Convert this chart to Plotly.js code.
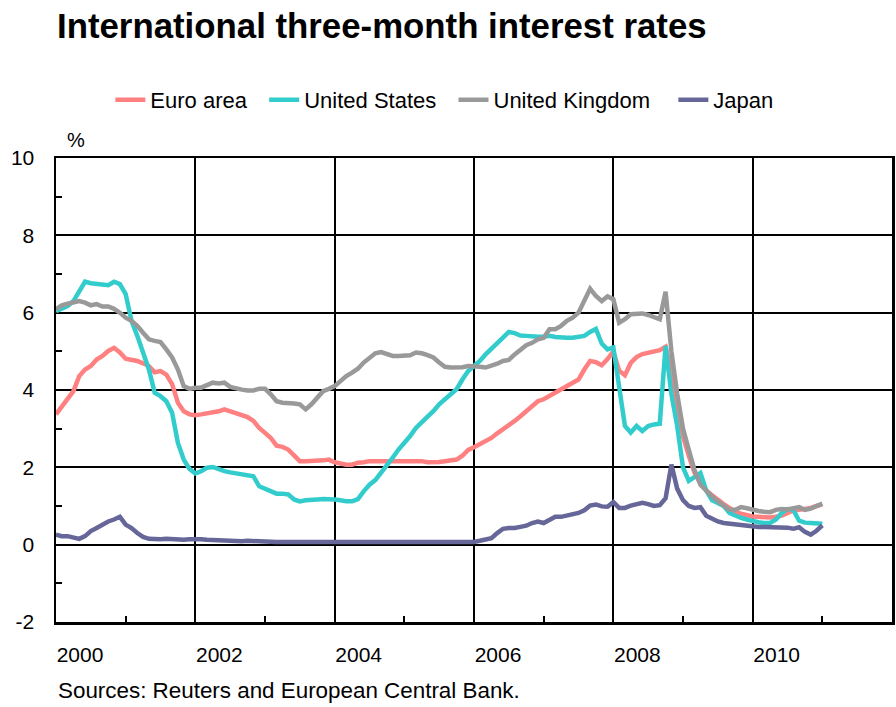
<!DOCTYPE html>
<html>
<head>
<meta charset="utf-8">
<script src="https://cdn.plot.ly/plotly-3.0.1.min.js"></script>
<style>
  html, body { margin: 0; padding: 0; background: #fff; }
  #chart { width: 896px; height: 707px; }
</style>
</head>
<body>
<div id="chart"></div>
<script>
const START_YEAR = 2000;

const seriesNames = ['Euro area', 'United States', 'United Kingdom', 'Japan'];

const euroArea = [
  3.37, 3.58, 3.76, 3.97, 4.36, 4.53, 4.62, 4.79, 4.88, 5.01, 5.09, 4.97,
  4.81, 4.78, 4.75, 4.69, 4.62, 4.46, 4.49, 4.40, 4.15, 3.67, 3.45, 3.37,
  3.35, 3.37, 3.39, 3.41, 3.45, 3.50, 3.45, 3.39, 3.33, 3.30, 3.20, 3.02,
  2.89, 2.76, 2.56, 2.53, 2.46, 2.29, 2.16, 2.16, 2.16, 2.16, 2.18, 2.20,
  2.13, 2.10, 2.07, 2.07, 2.12, 2.13, 2.16, 2.16, 2.16, 2.16, 2.18, 2.18,
  2.16, 2.16, 2.16, 2.16, 2.13, 2.13, 2.14, 2.16, 2.18, 2.20, 2.30, 2.45,
  2.52, 2.60, 2.70, 2.76, 2.88, 2.98, 3.07, 3.20, 3.32, 3.45, 3.60, 3.71,
  3.76, 3.84, 3.93, 4.02, 4.10, 4.19, 4.27, 4.53, 4.75, 4.72, 4.64, 4.80,
  5.00, 4.50, 4.38, 4.70, 4.85, 4.93, 4.97, 5.00, 5.03, 5.12, 4.50, 3.60,
  2.80, 2.30, 1.85, 1.60, 1.40, 1.28, 1.15, 1.05, 0.95, 0.85, 0.80, 0.75,
  0.73, 0.72, 0.70, 0.70, 0.72, 0.75, 0.82, 0.88, 0.90, 0.92, 0.95, 1.00,
  1.04
];

const unitedStates = [
  6.04, 6.10, 6.17, 6.30, 6.58, 6.80, 6.76, 6.74, 6.71, 6.71, 6.80, 6.74,
  6.48, 5.79, 5.40, 5.00, 4.53, 3.93, 3.84, 3.71, 3.41, 2.63, 2.20, 1.96,
  1.84, 1.90, 1.99, 2.01, 1.94, 1.90, 1.87, 1.84, 1.82, 1.80, 1.77, 1.51,
  1.44, 1.38, 1.32, 1.32, 1.30, 1.17, 1.12, 1.15, 1.15, 1.17, 1.18, 1.18,
  1.17, 1.15, 1.12, 1.12, 1.18, 1.38, 1.55, 1.67, 1.86, 2.03, 2.25, 2.46,
  2.63, 2.81, 3.02, 3.15, 3.31, 3.45, 3.63, 3.76, 3.90, 4.02, 4.27, 4.49,
  4.62, 4.75, 4.92, 5.07, 5.21, 5.35, 5.50, 5.47, 5.41, 5.40, 5.38, 5.38,
  5.38, 5.40, 5.37, 5.35, 5.35, 5.35, 5.37, 5.40, 5.50, 5.58, 5.20, 5.05,
  5.10, 4.00, 3.07, 2.90, 3.07, 2.94, 3.07, 3.11, 3.13, 5.14, 3.90, 3.07,
  2.00, 1.65, 1.75, 1.85, 1.40, 1.15, 1.08, 1.00, 0.82, 0.75, 0.69, 0.65,
  0.60, 0.58, 0.56, 0.56, 0.65, 0.82, 0.92, 0.90, 0.62, 0.57, 0.56, 0.54,
  0.54
];

const unitedKingdom = [
  6.09, 6.19, 6.23, 6.28, 6.30, 6.26, 6.19, 6.22, 6.16, 6.16, 6.10, 6.00,
  5.87, 5.79, 5.66, 5.48, 5.31, 5.27, 5.24, 5.05, 4.84, 4.53, 4.10, 4.03,
  4.06, 4.06, 4.12, 4.19, 4.17, 4.19, 4.08, 4.03, 4.01, 3.99, 3.99, 4.03,
  4.03, 3.89, 3.71, 3.67, 3.67, 3.65, 3.63, 3.50, 3.63, 3.80, 3.97, 4.03,
  4.10, 4.23, 4.36, 4.45, 4.55, 4.71, 4.84, 4.95, 4.98, 4.92, 4.88, 4.88,
  4.88, 4.90, 4.97, 4.95, 4.90, 4.84, 4.71, 4.60, 4.58, 4.58, 4.59, 4.62,
  4.62, 4.60, 4.58, 4.62, 4.68, 4.75, 4.78, 4.92, 5.03, 5.16, 5.22, 5.31,
  5.35, 5.57, 5.57, 5.66, 5.79, 5.87, 6.00, 6.30, 6.62, 6.43, 6.30, 6.42,
  6.35, 5.74, 5.83, 5.96, 5.98, 5.98, 5.94, 5.87, 5.83, 6.54, 5.00, 3.90,
  3.00, 2.45, 1.92, 1.55, 1.38, 1.25, 1.12, 1.00, 0.90, 0.90, 0.97, 0.94,
  0.89, 0.87, 0.85, 0.84, 0.90, 0.92, 0.91, 0.93, 0.97, 0.90, 0.93, 1.00,
  1.06
];

const japan = [
  0.26, 0.22, 0.22, 0.17, 0.15, 0.22, 0.35, 0.43, 0.52, 0.60, 0.65, 0.72,
  0.52, 0.43, 0.30, 0.20, 0.15, 0.14, 0.14, 0.15, 0.14, 0.13, 0.13, 0.14,
  0.15, 0.14, 0.13, 0.12, 0.11, 0.10, 0.10, 0.10, 0.09, 0.10, 0.09, 0.08,
  0.08, 0.08, 0.07, 0.07, 0.07, 0.06, 0.06, 0.06, 0.06, 0.06, 0.05, 0.05,
  0.05, 0.05, 0.05, 0.05, 0.05, 0.05, 0.06, 0.06, 0.06, 0.06, 0.07, 0.07,
  0.07, 0.07, 0.07, 0.07, 0.07, 0.07, 0.07, 0.07, 0.07, 0.07, 0.07, 0.07,
  0.07, 0.10, 0.15, 0.17, 0.30, 0.41, 0.43, 0.43, 0.46, 0.49, 0.56, 0.60,
  0.56, 0.63, 0.72, 0.72, 0.75, 0.78, 0.82, 0.89, 1.01, 1.04, 0.99, 0.98,
  1.10, 0.95, 0.95, 1.01, 1.06, 1.08, 1.05, 1.00, 1.02, 1.20, 2.07, 1.45,
  1.15, 1.00, 0.95, 0.97, 0.75, 0.66, 0.60, 0.56, 0.54, 0.52, 0.50, 0.48,
  0.46, 0.46, 0.46, 0.46, 0.46, 0.45, 0.44, 0.41, 0.45, 0.33, 0.26, 0.36,
  0.50
];

const seriesValues = [euroArea, unitedStates, unitedKingdom, japan];
const seriesColors = ['#FF8080', '#33CCCC', '#999999', '#666699'];

const xTickVals = [2000, 2002, 2004, 2006, 2008, 2010];
const xTickText = ['2000', '2002', '2004', '2006', '2008', '2010'];
const yTickVals = [-2, 0, 2, 4, 6, 8, 10];
const yTickText = ['-2', '0', '2', '4', '6', '8', '10'];

const titleText = 'International three-month interest rates';
const unitText = '%';
const sourceText = 'Sources: Reuters and European Central Bank.';

const FONT = 'Liberation Sans, Arial, Helvetica, sans-serif';
const LEGEND_PAD = ['\u00a0\u00a0', '\u00a0\u00a0', '\u00a0\u00a0\u00a0', ''];

// month positions as decimal years
const xMonths = euroArea.map((_, i) => START_YEAR + i / 12);

const traces = seriesValues.map((vals, k) => ({
  type: 'scatter',
  mode: 'lines',
  name: seriesNames[k] + LEGEND_PAD[k],
  x: xMonths,
  y: vals,
  line: { color: seriesColors[k], width: 4.5 },
  hoverinfo: 'skip'
}));

const layout = {
  width: 896,
  height: 707,
  margin: { l: 56, r: 4, t: 158, b: 85, pad: 0 },
  paper_bgcolor: '#ffffff',
  plot_bgcolor: '#ffffff',
  font: { family: FONT, color: '#000000', size: 20 },
  title: {
    text: '<b>' + titleText + '</b>',
    font: { family: FONT, size: 34.8, color: '#000000' },
    xref: 'container', x: 57 / 896, xanchor: 'left',
    yref: 'container', y: 1 - 26 / 707, yanchor: 'middle'
  },
  showlegend: true,
  legend: {
    orientation: 'h',
    xref: 'paper', x: 0.065, xanchor: 'left',
    yref: 'paper', y: 1.125, yanchor: 'middle',
    font: { family: FONT, size: 22, color: '#000000' },
    bgcolor: 'rgba(0,0,0,0)',
    borderwidth: 0,
    traceorder: 'normal'
  },
  xaxis: {
    range: [2000, 2012],
    tickmode: 'array',
    tickvals: xTickVals,
    ticktext: xTickText,
    ticks: '',
    ticklabelshift: 24,
    ticklabelstandoff: 12,
    tickfont: { family: FONT, size: 21, color: '#000000' },
    showgrid: true, gridcolor: '#000000', gridwidth: 2,
    showline: true, linecolor: '#000000', linewidth: 2.5, mirror: true,
    zeroline: false,
    minor: { tickmode: 'linear', tick0: 2001, dtick: 2, ticks: 'inside', ticklen: 6, tickwidth: 2, tickcolor: '#000000', showgrid: false },
    fixedrange: true
  },
  yaxis: {
    range: [-2, 10],
    tickmode: 'array',
    tickvals: yTickVals,
    ticktext: yTickText,
    ticks: '',
    ticklabelstandoff: 15,
    tickfont: { family: FONT, size: 21, color: '#000000' },
    showgrid: true, gridcolor: '#000000', gridwidth: 2,
    showline: true, linecolor: '#000000', linewidth: 2.5, mirror: true,
    zeroline: false,
    minor: { tickmode: 'linear', tick0: -1, dtick: 2, ticks: 'inside', ticklen: 6, tickwidth: 2, tickcolor: '#000000', showgrid: false },
    fixedrange: true
  },
  annotations: [
    {
      text: unitText, showarrow: false,
      xref: 'paper', x: 0.024, xanchor: 'center',
      yref: 'paper', y: 1.038, yanchor: 'middle',
      font: { family: FONT, size: 20, color: '#000000' }
    },
    {
      text: sourceText, showarrow: false,
      xref: 'paper', x: 0.0, xanchor: 'left',
      yref: 'paper', y: -0.147, yanchor: 'middle',
      font: { family: FONT, size: 22.4, color: '#000000' }
    }
  ]
};

Plotly.newPlot('chart', traces, layout, { displayModeBar: false, staticPlot: true });
</script>
</body>
</html>
